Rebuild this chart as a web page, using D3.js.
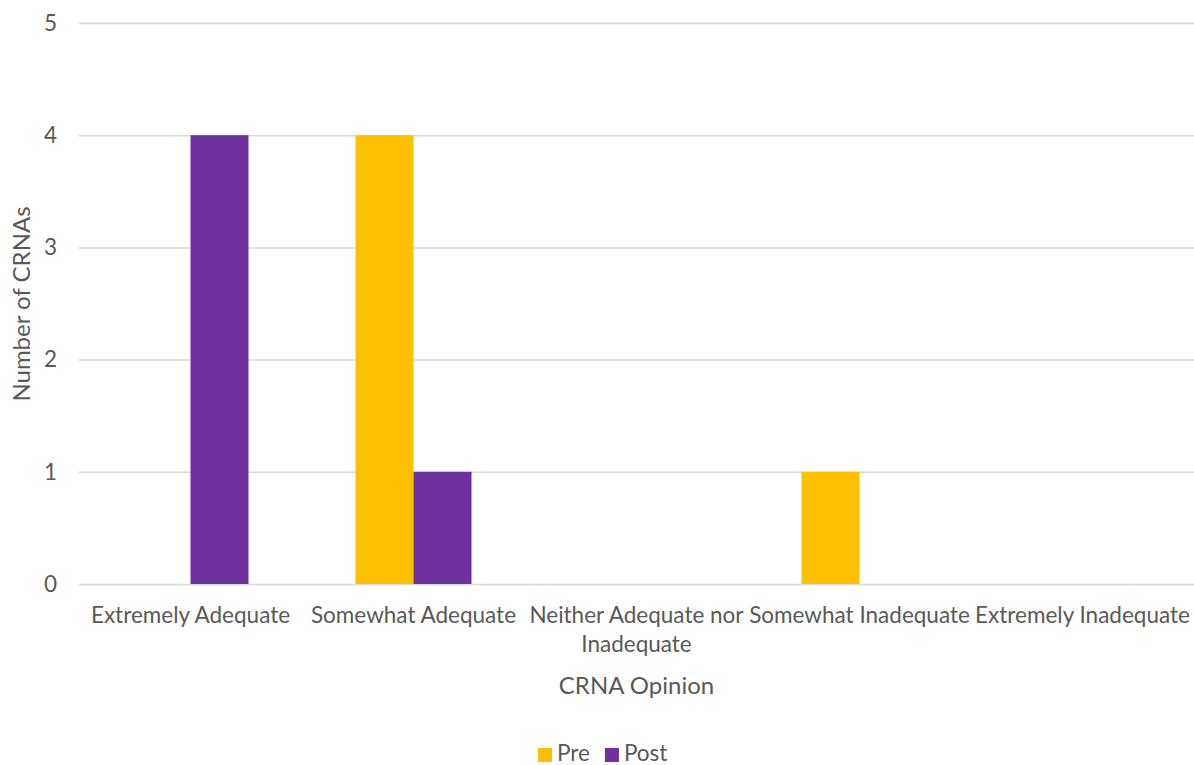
<!DOCTYPE html>
<html>
<head>
<meta charset="utf-8">
<script src="https://cdn.jsdelivr.net/npm/d3@7"></script>
<style>
  html, body { margin: 0; padding: 0; background: #fff; }
  svg { display: block; font-family: Lato, "Open Sans", sans-serif; }
</style>
</head>
<body>
<svg id="chart" width="1194" height="765"></svg>
<script>
// Survey responses: CRNA opinion before and after
const categories = [
  "Extremely Adequate",
  "Somewhat Adequate",
  "Neither Adequate nor Inadequate",
  "Somewhat Inadequate",
  "Extremely Inadequate"
];
const seriesNames = ["Pre", "Post"];
const preValues = [0, 4, 0, 1, 0];
const postValues = [4, 1, 0, 0, 0];
const yTicks = [0, 1, 2, 3, 4, 5];
const colors = { Pre: "#FFC000", Post: "#7030A0" };

const textColor = "#595959";
const fontSize = 22.5;
const svg = d3.select("#chart");
const margin = { left: 79, right: 0, top: 23, bottom: 181 };
const width = 1194, height = 765;

const x0 = d3.scaleBand().domain(categories).range([margin.left, width - margin.right]).padding(0);
const step = x0.bandwidth();
const cluster = step * 0.52;
const x1 = d3.scaleBand().domain(seriesNames).range([(step - cluster) / 2, (step + cluster) / 2]).padding(0);
const y = d3.scaleLinear().domain([0, 5]).range([height - margin.bottom, margin.top]);

// gridlines + y tick labels
const yAxis = d3.axisLeft(y).tickValues(yTicks).tickSize(-(width - margin.left - margin.right)).tickPadding(22).tickFormat(d3.format("d"));
const gy = svg.append("g").attr("transform", `translate(${margin.left},0)`).call(yAxis);
gy.select(".domain").remove();
gy.selectAll(".tick line").attr("stroke", "#D9D9D9").attr("stroke-width", 1.5);
gy.selectAll(".tick text").attr("fill", textColor).attr("font-size", fontSize).attr("font-family", "Lato, sans-serif");

// bars
const rows = categories.map((c, i) => ({ category: c, values: [
  { key: "Pre", value: preValues[i] },
  { key: "Post", value: postValues[i] }
]}));
const groups = svg.append("g").selectAll("g").data(rows).join("g")
  .attr("transform", d => `translate(${x0(d.category)},0)`);
groups.selectAll("rect").data(d => d.values.filter(v => v.value > 0)).join("rect")
  .attr("x", d => x1(d.key))
  .attr("y", d => y(d.value))
  .attr("width", x1.bandwidth())
  .attr("height", d => y(0) - y(d.value))
  .attr("fill", d => colors[d.key]);

// category labels, wrapped to the band width
const labelG = svg.append("g").attr("fill", textColor).attr("font-size", fontSize).attr("text-anchor", "middle");
categories.forEach(c => {
  const cx = x0(c) + step / 2;
  const t = labelG.append("text").attr("x", cx).attr("y", 623);
  const words = c.split(" ");
  let line = [];
  let tspan = t.append("tspan").attr("x", cx).attr("dy", 0);
  words.forEach(w => {
    line.push(w);
    tspan.text(line.join(" "));
    if (tspan.node().getComputedTextLength() > step - 2 && line.length > 1) {
      line.pop();
      tspan.text(line.join(" "));
      line = [w];
      tspan = t.append("tspan").attr("x", cx).attr("dy", 29).text(w);
    }
  });
});

// axis titles
svg.append("text").attr("x", (margin.left + width) / 2).attr("y", 694)
  .attr("text-anchor", "middle").attr("fill", textColor).attr("font-size", 24).text("CRNA Opinion");
svg.append("text").attr("transform", "translate(30,304) rotate(-90)")
  .attr("text-anchor", "middle").attr("fill", textColor).attr("font-size", 24).text("Number of CRNAs");

// legend
const legend = svg.append("g").attr("transform", "translate(538,0)");
let lx = 0;
seriesNames.forEach(s => {
  legend.append("rect").attr("x", lx).attr("y", 748).attr("width", 14).attr("height", 14).attr("fill", colors[s]);
  const t = legend.append("text").attr("x", lx + 19).attr("y", 761).attr("fill", textColor).attr("font-size", fontSize).text(s);
  lx += 19 + t.node().getComputedTextLength() + 15;
});
</script>
</body>
</html>
